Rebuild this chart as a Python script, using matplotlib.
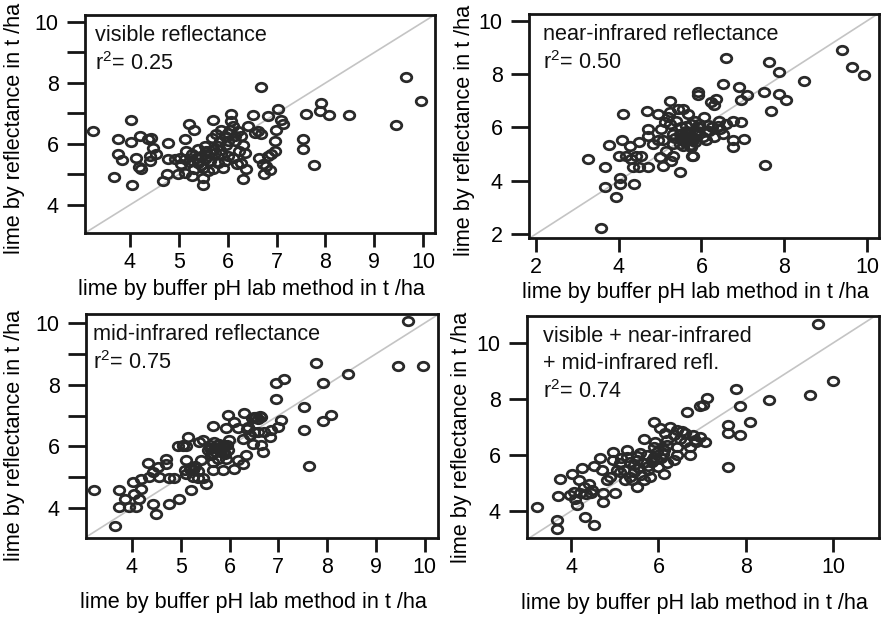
import matplotlib
matplotlib.use("Agg")
import matplotlib.pyplot as plt
from matplotlib.path import Path

plt.rcParams['font.family'] = ['Liberation Sans', 'DejaVu Sans']
plt.rcParams['mathtext.fontset'] = 'custom'
plt.rcParams['mathtext.rm'] = 'Liberation Sans'

# visible reflectance
vis_x = [3.25, 3.75, 4.03, 3.76, 3.83, 3.68, 4.05, 4.03, 4.13, 4.18, 4.22, 4.20, 4.37, 4.44,
         4.47, 4.41, 4.41, 4.54, 4.68, 4.78, 4.75, 4.77, 4.92, 5.05, 4.98, 5.12, 5.12, 5.20,
         5.32, 5.15, 5.26, 5.39, 5.46, 5.29, 5.39, 5.53, 5.49, 5.32, 5.60, 5.26, 5.49, 5.49,
         5.67, 5.77, 5.87, 5.94, 5.80, 5.97, 5.73, 5.87, 5.63, 5.80, 5.70, 5.90, 5.70, 6.07,
         6.07, 6.11, 6.21, 6.28, 6.14, 6.31, 6.24, 6.35, 6.11, 6.18, 6.28, 6.41, 6.55, 6.62,
         6.52, 6.31, 6.38, 6.69, 6.69, 6.65, 6.72, 6.82, 6.79, 6.89, 6.75, 6.82, 6.86, 6.96,
         6.99, 7.03, 7.09, 7.13, 6.96, 5.53, 6.01, 6.01, 5.56, 5.12, 5.02, 7.54, 7.54, 7.60,
         7.77, 7.91, 7.88, 8.08, 8.49, 9.44, 9.64, 9.95,
         5.35, 5.60, 5.70, 5.85, 6.00, 6.15, 5.45, 5.95, 6.05, 5.85, 5.55, 5.20]
vis_y = [6.44, 6.15, 6.78, 5.66, 5.47, 4.93, 4.67, 6.07, 5.55, 5.25, 5.19, 6.25, 6.15, 6.20,
         5.87, 5.60, 5.44, 5.66, 4.78, 6.04, 5.03, 5.49, 5.49, 5.33, 5.00, 5.06, 6.17, 6.64,
         6.47, 5.76, 5.66, 5.82, 5.60, 5.44, 5.38, 5.49, 5.22, 5.17, 5.11, 4.95, 4.89, 4.67,
         6.20, 6.31, 6.47, 6.25, 5.93, 5.98, 5.71, 5.66, 5.44, 5.38, 5.17, 5.22, 6.80, 6.98,
         6.74, 6.58, 6.42, 6.25, 6.09, 5.98, 5.76, 5.71, 5.55, 5.33, 5.38, 6.58, 6.36, 6.42,
         6.96, 4.86, 5.17, 7.87, 6.31, 5.55, 5.33, 5.60, 5.27, 5.66, 5.00, 6.91, 5.16, 6.09,
         6.47, 7.13, 6.80, 6.64, 5.76, 5.93, 5.60, 6.36, 5.76, 5.49, 5.55, 6.15, 5.82, 6.98,
         5.30, 7.34, 7.07, 6.96, 6.96, 6.61, 8.19, 7.42,
         5.55, 5.60, 5.85, 5.80, 6.10, 6.25, 5.30, 5.45, 6.45, 6.10, 5.75, 5.40]

# near-infrared reflectance
nir_x = [3.58, 3.26, 3.66, 3.77, 3.66, 3.93, 4.02, 4.02, 4.36, 4.10, 4.09, 4.01, 4.18, 4.30,
         4.42, 4.26, 4.34, 4.50, 4.71, 4.54, 4.50, 4.68, 4.71, 4.71, 4.95, 5.23, 5.07, 4.99,
         5.27, 5.47, 5.79, 5.77, 5.91, 5.91, 5.03, 5.07, 5.15, 5.11, 5.23, 5.39, 5.51, 5.31,
         5.63, 5.75, 5.87, 5.79, 5.63, 5.47, 5.31, 5.75, 5.95, 6.07, 6.19, 6.11, 6.31, 6.43,
         6.59, 6.75, 6.51, 6.75, 6.95, 7.03, 6.75, 5.23, 5.43, 5.55, 5.67, 6.23, 6.35, 6.31,
         6.11, 5.47, 5.59, 5.67, 5.55, 5.71, 5.63, 5.91, 6.03, 5.31, 5.19, 4.95, 4.83, 6.51,
         6.59, 6.91, 6.95, 7.11, 7.52, 7.62, 7.53, 7.68, 7.88, 7.88, 8.04, 8.48, 9.40, 9.64,
         9.93,
         5.60, 5.70, 5.80, 5.65, 5.85, 5.55, 5.75, 5.50, 5.90, 6.15, 6.25, 6.40, 6.45, 5.35,
         5.85]
nir_y = [2.24, 4.81, 4.50, 5.34, 3.78, 3.39, 3.87, 4.12, 3.87, 6.51, 5.51, 4.94, 4.94, 4.81,
         4.94, 5.32, 4.50, 4.50, 4.50, 4.94, 5.44, 6.61, 5.95, 5.69, 6.49, 6.99, 4.56, 4.88,
         4.75, 4.31, 4.94, 4.92, 7.33, 7.20, 5.95, 5.51, 5.13, 6.20, 6.13, 6.26, 6.01, 5.76,
         5.88, 6.13, 5.76, 5.51, 5.51, 5.38, 5.38, 5.25, 6.13, 6.39, 5.88, 5.51, 5.63, 6.26,
         6.13, 6.26, 5.76, 5.51, 6.20, 5.57, 5.25, 6.57, 6.70, 6.70, 6.51, 6.95, 7.08, 6.83,
         5.88, 5.76, 5.69, 5.63, 5.57, 5.82, 6.07, 6.01, 5.63, 4.94, 6.39, 5.51, 5.38, 7.64,
         8.59, 7.52, 7.02, 7.20, 7.33, 8.46, 4.60, 6.61, 8.08, 7.24, 7.02, 7.74, 8.90, 8.27,
         7.96,
         5.45, 5.55, 5.65, 5.75, 5.45, 5.30, 5.35, 5.60, 5.85, 6.10, 6.00, 6.05, 5.95, 5.60,
         6.25]

# mid-infrared reflectance
mir_x = [3.23, 3.66, 3.74, 3.74, 3.85, 3.95, 4.05, 4.08, 4.15, 4.02, 4.19, 4.19, 4.32, 4.43,
         4.49, 4.36, 4.43, 4.53, 4.56, 4.70, 4.70, 4.77, 4.87, 4.77, 4.97, 5.21, 5.11, 5.14,
         4.94, 5.04, 5.18, 5.28, 5.08, 5.11, 5.25, 5.35, 5.45, 5.52, 5.42, 5.45, 5.66, 5.38,
         5.59, 5.69, 5.79, 5.89, 5.96, 5.86, 5.72, 5.62, 5.55, 5.76, 5.93, 5.66, 5.98, 5.83,
         5.96, 6.10, 6.30, 6.51, 6.58, 6.65, 5.93, 6.17, 6.37, 6.41, 6.27, 6.48, 6.68, 6.65,
         6.82, 6.85, 7.06, 6.99, 6.58, 6.71, 6.10, 6.17, 6.34, 6.27, 5.86, 5.66, 6.95, 7.12,
         6.95, 7.53, 7.53, 7.62, 7.77, 7.91, 7.91, 8.08, 8.43, 9.46, 9.66, 9.97,
         5.70, 5.80, 5.75, 5.85, 5.65, 5.90, 5.95, 5.60, 5.25, 5.30, 5.35, 5.22, 5.05, 5.10,
         6.55, 6.62, 6.45, 6.35, 6.50]
mir_y = [4.58, 3.41, 4.58, 4.03, 4.31, 4.03, 4.47, 4.03, 4.31, 4.85, 4.95, 4.63, 5.46, 4.14,
         3.82, 5.01, 5.17, 5.33, 5.01, 5.60, 5.44, 4.96, 4.96, 4.14, 4.31, 4.58, 5.55, 6.29,
         6.00, 6.04, 5.28, 5.33, 5.22, 5.12, 5.01, 4.96, 4.96, 4.77, 5.55, 6.20, 6.65, 6.15,
         6.04, 6.15, 6.09, 6.04, 5.87, 5.77, 5.82, 5.71, 5.87, 5.60, 5.60, 5.50, 6.20, 5.93,
         7.01, 6.80, 7.09, 6.96, 6.90, 6.96, 6.58, 6.58, 6.63, 6.36, 6.25, 6.09, 5.82, 6.04,
         6.31, 6.52, 6.85, 6.63, 6.47, 6.47, 5.28, 5.55, 5.71, 5.44, 5.22, 5.22, 8.06, 8.17,
         7.55, 7.28, 6.52, 5.36, 8.69, 8.06, 6.82, 7.01, 8.34, 8.60, 10.07, 8.60,
         5.95, 5.85, 6.05, 6.00, 5.78, 5.75, 6.05, 5.95, 5.25, 5.35, 5.20, 5.30, 6.02, 6.00,
         6.95, 6.98, 6.92, 6.55, 6.45]

# visible + near-infrared + mid-infrared
all_x = [3.22, 3.68, 3.68, 3.69, 3.75, 4.02, 4.17, 3.98, 4.10, 4.13, 4.21, 4.06, 4.32, 4.52,
         4.29, 4.40, 4.48, 4.25, 4.52, 4.67, 4.71, 4.74, 4.74, 4.97, 4.97, 5.01, 5.13, 5.20,
         5.28, 5.24, 5.35, 5.43, 5.51, 5.51, 5.66, 5.66, 5.89, 5.58, 5.74, 5.85, 5.96, 6.12,
         6.00, 6.19, 6.35, 6.42, 6.12, 6.04, 6.16, 6.27, 6.42, 6.50, 6.61, 6.19, 6.42, 6.73,
         6.73, 6.80, 6.84, 6.96, 7.07, 6.65, 6.96, 7.03, 7.11, 7.60, 7.60, 7.87, 7.60, 7.78,
         7.87, 8.10, 8.52, 5.35, 5.13, 5.77, 5.93, 5.28, 5.81, 4.82, 5.89, 9.47, 9.66, 10.00,
         5.45, 5.55, 5.65, 5.75, 5.85, 5.95, 6.05, 5.60, 5.40, 5.50, 6.10, 5.90, 6.20, 6.35,
         6.55, 5.15, 5.05, 4.90, 4.35, 4.45, 6.85, 6.60]
all_y = [4.15, 3.67, 3.38, 4.53, 5.13, 5.32, 5.10, 4.57, 4.45, 4.21, 4.63, 4.69, 3.79, 3.50,
         4.86, 4.98, 4.75, 5.55, 5.60, 5.88, 5.46, 4.63, 4.33, 6.11, 5.82, 4.63, 5.70, 5.46,
         5.94, 5.10, 5.22, 5.64, 5.82, 4.86, 5.10, 6.59, 7.19, 6.06, 6.00, 5.82, 6.11, 6.17,
         5.58, 5.70, 5.82, 6.00, 5.34, 6.95, 6.77, 7.01, 6.89, 6.59, 6.77, 6.35, 6.29, 6.00,
         6.29, 6.71, 6.53, 6.65, 6.47, 7.54, 7.75, 7.78, 8.02, 7.07, 6.79, 6.71, 5.58, 8.34,
         7.75, 7.19, 7.98, 5.76, 5.40, 5.46, 6.47, 6.18, 5.22, 5.10, 5.94, 8.16, 10.67, 8.65,
         5.40, 5.55, 5.70, 5.60, 5.75, 5.85, 5.90, 5.30, 5.10, 5.95, 6.05, 6.30, 6.55, 6.70,
         6.85, 5.90, 5.45, 5.20, 4.60, 4.65, 6.45, 6.45]

titles = ["visible reflectance\nr$^{2}$= 0.25",
          "near-infrared reflectance\nr$^{2}$= 0.50",
          "mid-infrared reflectance\nr$^{2}$= 0.75",
          "visible + near-infrared\n+ mid-infrared refl.\nr$^{2}$= 0.74"]

xlab = "lime by buffer pH lab method in t /ha"
ylab = "lime by reflectance in t /ha"

circ = Path.unit_circle()
oval = Path(circ.vertices * [1.0, 0.8], circ.codes)

fig = plt.figure(figsize=(8.85, 6.18), dpi=100)

panels = [
    # data, rect, xlim, ylim, xmaj, xmin, ymaj, ymin, text x, xlabel y, ylabel pos
    (vis_x, vis_y, [0.0960, 0.6230, 0.3955, 0.3528], (3.08, 10.24), (3.08, 10.23),
     [4, 5, 6, 7, 8, 9, 10], [], [4, 6, 8, 10], [5, 7, 9], 0.029, -0.26, (-0.2, 0.48)),
    (nir_x, nir_y, [0.5977, 0.6149, 0.3955, 0.3625], (1.83, 10.29), (1.85, 10.26),
     [2, 4, 6, 8, 10], [], [2, 4, 6, 8, 10], [], 0.04, -0.245, (-0.183, 0.48)),
    (mir_x, mir_y, [0.0972, 0.1294, 0.3977, 0.3625], (3.06, 10.27), (3.03, 10.29),
     [4, 5, 6, 7, 8, 9, 10], [], [4, 6, 8, 10], [5, 7, 9], 0.02, -0.29, (-0.202, 0.46)),
    (all_x, all_y, [0.5955, 0.1294, 0.3977, 0.3592], (2.99, 11.05), (3.04, 10.96),
     [4, 6, 8, 10], [], [4, 6, 8, 10], [], 0.045, -0.293, (-0.185, 0.455)),
]

for i, (xs, ys, rect, xl, yl, xmaj, xmin, ymaj, ymin, tx, xly, ylp) in enumerate(panels):
    ax = fig.add_axes(rect)
    ax.axline((xl[0], xl[0]), slope=1, color='#c4c4c4', lw=1.2, zorder=1)
    ax.plot(xs, ys, linestyle='none', marker=oval, ms=7.6, mfc='none',
            mec='#2a2a2a', mew=2.0, zorder=2)
    ax.set_xlim(xl)
    ax.set_ylim(yl)
    ax.set_xticks(xmaj)
    ax.set_xticks(xmin, minor=True)
    ax.set_yticks(ymaj)
    ax.set_yticks(ymin, minor=True)
    for s in ax.spines.values():
        s.set_linewidth(2.0)
        s.set_color('#151515')
    ax.tick_params(axis='y', which='both', direction='out', length=13, width=2.0,
                   pad=6, labelsize=15.5, color='#151515')
    ax.tick_params(axis='x', which='both', direction='out', length=10, width=2.0,
                   pad=4, labelsize=15.5, color='#151515')
    ax.text(tx, 0.955, titles[i], transform=ax.transAxes, ha='left', va='top',
            fontsize=15.6, linespacing=1.35, color='#111111')
    ax.set_xlabel(xlab, fontsize=15.6, va='center')
    ax.xaxis.set_label_coords(0.475, xly)
    ax.set_ylabel(ylab, fontsize=15.6, va='center')
    ax.yaxis.set_label_coords(ylp[0], ylp[1])

fig.savefig("out.png", dpi=100)
